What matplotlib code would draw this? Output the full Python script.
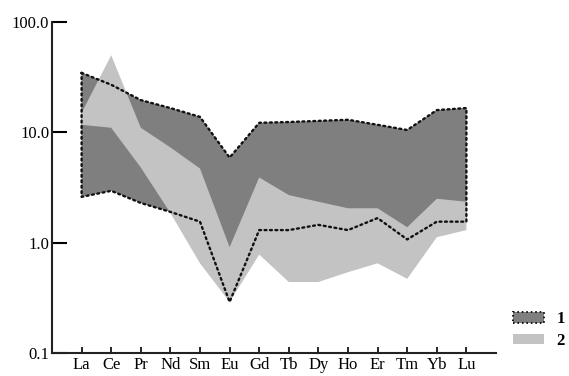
import numpy as np
import matplotlib.pyplot as plt
from matplotlib.patches import Patch

# REE pattern envelopes (chondrite-normalised)
elements = ['La', 'Ce', 'Pr', 'Nd', 'Sm', 'Eu', 'Gd', 'Tb', 'Dy', 'Ho', 'Er', 'Tm', 'Yb', 'Lu']

# field 1 (dark, dotted outline)
field1_upper = [34.6, 27.0, 19.6, 16.6, 13.8, 5.9, 12.2, 12.4, 12.7, 13.0, 11.7, 10.5, 15.9, 16.6]
field1_lower = [2.6, 2.95, 2.29, 1.9, 1.55, 0.29, 1.3, 1.3, 1.45, 1.3, 1.67, 1.07, 1.55, 1.55]

# field 2 (light)
field2_upper = [15.0, 50.0, 11.0, 7.3, 4.7, 0.91, 3.9, 2.7, 2.35, 2.05, 2.05, 1.38, 2.5, 2.35]
field2_lower = [11.7, 11.0, 4.8, 1.86, 0.65, 0.29, 0.78, 0.44, 0.44, 0.54, 0.65, 0.47, 1.12, 1.3]

ytick_vals = [0.1, 1, 10, 100]
ytick_labels = ['0.1', '1.0', '10.0', '100.0']

dark = '#7f7f7f'
light = '#c3c3c3'
serif = 'Liberation Serif'
dots = (0, (0.8, 1.5))

fig = plt.figure(figsize=(5.69, 3.76), dpi=100)
ax = fig.add_axes([52 / 569, 23 / 376, 444 / 569, 331 / 376])

x = np.arange(len(elements))

# dark field first, light field on top, dotted outline over both
ax.fill(np.concatenate([x, x[::-1]]),
        np.concatenate([field1_upper, field1_lower[::-1]]),
        color=dark, lw=0, zorder=1)
ax.fill(np.concatenate([x, x[::-1]]),
        np.concatenate([field2_upper, field2_lower[::-1]]),
        color=light, lw=0, zorder=2)
outline_x = np.concatenate([x, x[::-1], x[:1]])
outline_y = np.concatenate([field1_upper, field1_lower[::-1], field1_upper[:1]])
ax.plot(outline_x, outline_y, color='#111111', lw=1.7,
        linestyle=dots, dash_capstyle='round', zorder=3)

ax.set_yscale('log')
ax.set_ylim(0.1, 100)
ax.set_xlim(-1, 14)

ax.set_yticks(ytick_vals)
ax.set_yticklabels(ytick_labels)
ax.yaxis.set_minor_locator(plt.NullLocator())
ax.set_xticks(x)
ax.set_xticklabels(elements)

ax.tick_params(axis='y', direction='in', length=11, width=1.5, pad=2)
ax.tick_params(axis='x', direction='in', length=4, width=1.2, pad=3)
for lab in ax.get_xticklabels() + ax.get_yticklabels():
    lab.set_fontfamily(serif)
    lab.set_fontsize(12)

for side in ['top', 'right']:
    ax.spines[side].set_visible(False)
for side in ['left', 'bottom']:
    ax.spines[side].set_linewidth(1.5)
    ax.spines[side].set_color('#222222')

handles = [
    Patch(facecolor=dark, edgecolor='#111111', linestyle=dots, linewidth=1.4, label='1'),
    Patch(facecolor=light, edgecolor='none', label='2'),
]
fig.legend(handles=handles, loc='lower left', bbox_to_anchor=(513 / 569, 27 / 376),
           frameon=False, borderpad=0, borderaxespad=0,
           handlelength=1.85, handleheight=0.6, handletextpad=0.75,
           labelspacing=0.35, prop={'family': serif, 'weight': 'bold', 'size': 12})

fig.savefig('out.png', dpi=100)
